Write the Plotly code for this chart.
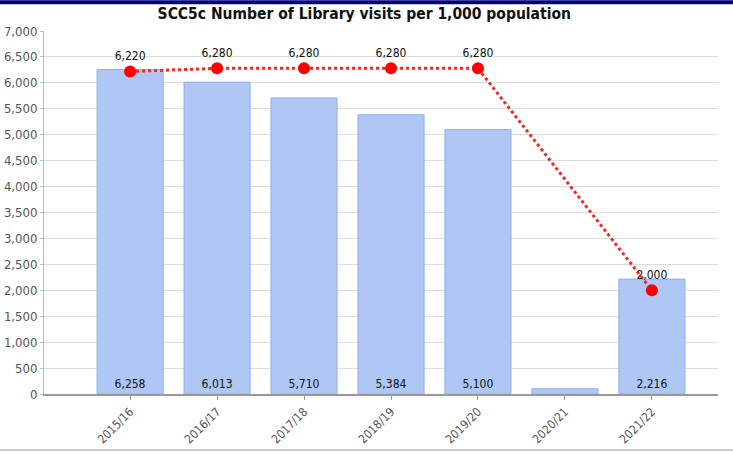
import plotly.graph_objects as go

# Data
years = ["2015/16", "2016/17", "2017/18", "2018/19", "2019/20", "2020/21", "2021/22"]
visits = [6258, 6013, 5710, 5384, 5100, 100, 2216]
visit_labels = ["6,258", "6,013", "5,710", "5,384", "5,100", "", "2,216"]
target_years = ["2015/16", "2016/17", "2017/18", "2018/19", "2019/20", "2021/22"]
targets = [6220, 6280, 6280, 6280, 6280, 2000]

fig = go.Figure()

fig.add_trace(go.Bar(
    x=years,
    y=visits,
    width=0.76,
    marker=dict(color="#aec7f4", line=dict(color="#8fb0ec", width=1)),
    text=visit_labels,
    textposition="inside",
    insidetextanchor="start",
    textfont=dict(family="DejaVu Sans Condensed", size=12, color="#111111"),
    textangle=0,
    showlegend=False,
))

fig.add_trace(go.Scatter(
    x=target_years,
    y=targets,
    mode="lines+markers+text",
    line=dict(color="#ff2020", width=3, dash="dot"),
    marker=dict(color="#ff0000", size=12),
    text=[f"{v:,}" for v in targets],
    textposition="top center",
    textfont=dict(family="DejaVu Sans Condensed", size=12, color="#111111"),
    cliponaxis=False,
    showlegend=False,
))

fig.update_layout(
    width=733,
    height=452,
    margin=dict(l=44, r=15, t=31, b=58, autoexpand=False),
    paper_bgcolor="white",
    plot_bgcolor="white",
    title=dict(
        text="<b>SCC5c Number of Library visits per 1,000 population</b>",
        x=0.497, xanchor="center", y=0.971, yanchor="middle",
        font=dict(family="DejaVu Sans Condensed", size=15.5, color="#111111"),
    ),
    xaxis=dict(
        type="category",
        range=[-0.99, 6.76],
        tickangle=-45,
        automargin=False,
        tickfont=dict(family="DejaVu Sans Condensed", size=12, color="#555555"),
        showline=True, linecolor="#999999", linewidth=2,
        ticks="outside", ticklen=4, tickcolor="#999999",
        showgrid=False,
    ),
    yaxis=dict(
        range=[0, 7000],
        dtick=500,
        tickformat=",",
        automargin=False,
        tickfont=dict(family="DejaVu Sans Condensed", size=13, color="#555555"),
        showgrid=True, gridcolor="#dddddd", gridwidth=1,
        showline=True, linecolor="#bbbbbb", linewidth=1,
        ticks="outside", ticklen=3, tickcolor="#bbbbbb",
        zeroline=False,
    ),
    shapes=[
        # navy frame line at the top and light rule at the bottom
        dict(type="line", xref="paper", yref="paper", x0=-0.07, x1=1.03,
             y0=1.079, y1=1.079, line=dict(color="#000080", width=4)),
        dict(type="line", xref="paper", yref="paper", x0=-0.07, x1=1.03,
             y0=-0.154, y1=-0.154, line=dict(color="#cccccc", width=2)),
    ],
)

# drop the default body margin so the figure sits at the window's corner
fig.write_html(
    "out.html",
    config={"displayModeBar": False},
    post_script="document.body.style.margin='0';",
)
